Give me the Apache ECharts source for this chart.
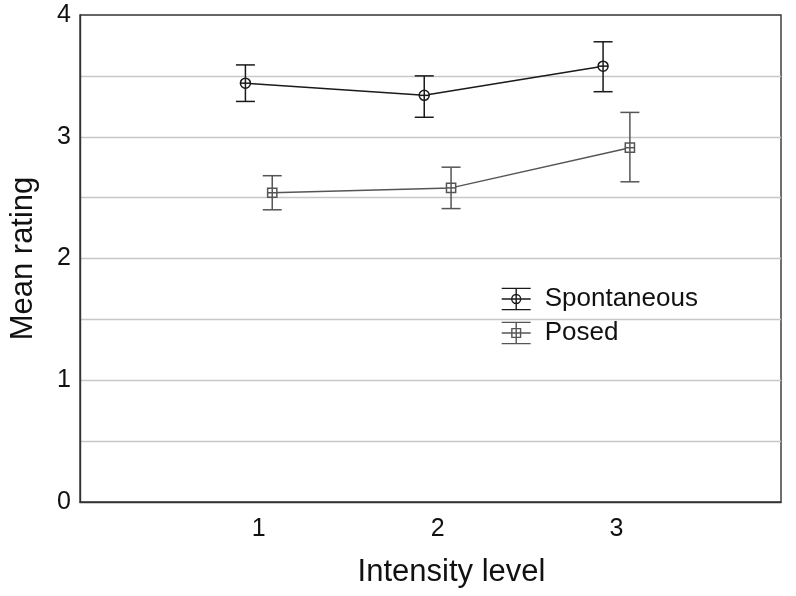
<!DOCTYPE html>
<html><head><meta charset="utf-8">
<script src="https://cdn.jsdelivr.net/npm/echarts@6/dist/echarts.min.js"></script>
<style>html,body{margin:0;padding:0;background:#fff}#c{width:796px;height:596px}</style>
</head><body><div id="c"></div>
<script>
const intensity = [1, 2, 3];
const seriesNames = ['Spontaneous', 'Posed'];
const spontMean = [3.44, 3.34, 3.58];
const spontLow  = [3.29, 3.16, 3.37];
const spontHigh = [3.59, 3.50, 3.78];
const posedMean = [2.54, 2.58, 2.91];
const posedLow  = [2.40, 2.41, 2.63];
const posedHigh = [2.68, 2.75, 3.20];
const yTickLabels = [0, 1, 2, 3, 4];
const xTickLabels = [1, 2, 3];

const SP_COLOR = '#1a1a1a', PO_COLOR = '#555555';
const OFF = 0.075;
const FONT = '"Liberation Sans", Arial, sans-serif';

function makeRender(shape, color) {
  return function (params, api) {
    const x = api.value(0), lo = api.value(1), hi = api.value(2), m = api.value(3);
    const pl = api.coord([x, lo]), ph = api.coord([x, hi]), pm = api.coord([x, m]);
    const cw = 9.5, r = 5, lw = 1.5;
    const st = { stroke: color, lineWidth: lw, fill: null };
    const ch = [
      { type: 'line', shape: { x1: pl[0], y1: pl[1], x2: ph[0], y2: ph[1] }, style: st },
      { type: 'line', shape: { x1: pl[0] - cw, y1: pl[1], x2: pl[0] + cw, y2: pl[1] }, style: st },
      { type: 'line', shape: { x1: ph[0] - cw, y1: ph[1], x2: ph[0] + cw, y2: ph[1] }, style: st }
    ];
    if (shape === 'circle') {
      ch.push({ type: 'circle', shape: { cx: pm[0], cy: pm[1], r: r }, style: { stroke: color, lineWidth: lw, fill: '#fff' } });
    } else {
      const s = r - 0.4;
      ch.push({ type: 'rect', shape: { x: pm[0] - s, y: pm[1] - s, width: 2 * s, height: 2 * s }, style: { stroke: color, lineWidth: lw, fill: '#fff' } });
    }
    ch.push({ type: 'line', shape: { x1: pm[0] - r, y1: pm[1], x2: pm[0] + r, y2: pm[1] }, style: st });
    ch.push({ type: 'line', shape: { x1: pm[0], y1: pm[1] - r, x2: pm[0], y2: pm[1] + r }, style: st });
    return { type: 'group', children: ch };
  };
}

const spontLine = intensity.map((v, i) => [v - OFF, spontMean[i]]);
const posedLine = intensity.map((v, i) => [v + OFF, posedMean[i]]);
const spontErr = intensity.map((v, i) => [v - OFF, spontLow[i], spontHigh[i], spontMean[i]]);
const posedErr = intensity.map((v, i) => [v + OFF, posedLow[i], posedHigh[i], posedMean[i]]);

const iconCircle = 'path://M0 0H30M0 11H30M0 22H30M15 0V22M19.6 11A4.6 4.6 0 1 1 10.4 11A4.6 4.6 0 1 1 19.6 11Z';
const iconSquare = 'path://M0 0H30M0 11H30M0 22H30M15 0V22M10.5 6.5H19.5V15.5H10.5Z';

const chart = echarts.init(document.getElementById('c'), null, { renderer: 'canvas' });
chart.setOption({
  animation: false,
  backgroundColor: '#fff',
  textStyle: { fontFamily: FONT },
  grid: { left: 79, right: 15, top: 15, bottom: 94, show: true, borderColor: '#333', borderWidth: 1.4, backgroundColor: 'transparent' },
  legend: {
    orient: 'vertical', left: 496, top: 281, itemWidth: 29, itemHeight: 22, itemGap: 8,
    textStyle: { fontSize: 26, color: '#111', fontFamily: FONT, padding: [0, 0, 0, 9] },
    data: [
      { name: seriesNames[0], icon: iconCircle, itemStyle: { color: 'transparent', borderColor: SP_COLOR, borderWidth: 1.4 } },
      { name: seriesNames[1], icon: iconSquare, itemStyle: { color: 'transparent', borderColor: PO_COLOR, borderWidth: 1.4 } }
    ]
  },
  xAxis: {
    type: 'value', min: 0, max: 3.92, interval: 1,
    name: 'Intensity level', nameLocation: 'middle', nameGap: 55,
    nameTextStyle: { fontSize: 31, color: '#111', fontFamily: FONT, padding: [0, 0, 0, 42] },
    axisLine: { show: true, lineStyle: { color: '#333', width: 1.4 } },
    axisTick: { show: false },
    splitLine: { show: false },
    axisLabel: {
      fontSize: 25, color: '#111', margin: 15,
      formatter: v => (xTickLabels.indexOf(v) >= 0 ? String(v) : '')
    }
  },
  yAxis: {
    type: 'value', min: 0, max: 4, interval: 0.5,
    name: 'Mean rating', nameLocation: 'middle', nameGap: 41,
    nameTextStyle: { fontSize: 31, color: '#111', fontFamily: FONT },
    axisLine: { show: true, lineStyle: { color: '#333', width: 1.4 } },
    axisTick: { show: false },
    splitLine: { show: true, showMinLine: false, showMaxLine: false, lineStyle: { color: '#c8c8c8', width: 1.4 } },
    axisLabel: {
      fontSize: 25, color: '#111', margin: 9,
      formatter: v => (yTickLabels.indexOf(v) >= 0 ? String(v) : '')
    }
  },
  series: [
    { name: seriesNames[0], type: 'line', data: spontLine, symbol: 'none', lineStyle: { color: SP_COLOR, width: 1.5 }, itemStyle: { color: SP_COLOR }, z: 2 },
    { name: seriesNames[1], type: 'line', data: posedLine, symbol: 'none', lineStyle: { color: PO_COLOR, width: 1.5 }, itemStyle: { color: PO_COLOR }, z: 2 },
    { name: 'spErr', type: 'custom', data: spontErr, renderItem: makeRender('circle', SP_COLOR), encode: { x: 0, y: [1, 2, 3] }, z: 3 },
    { name: 'poErr', type: 'custom', data: posedErr, renderItem: makeRender('square', PO_COLOR), encode: { x: 0, y: [1, 2, 3] }, z: 3 }
  ]
});
</script>
</body></html>
